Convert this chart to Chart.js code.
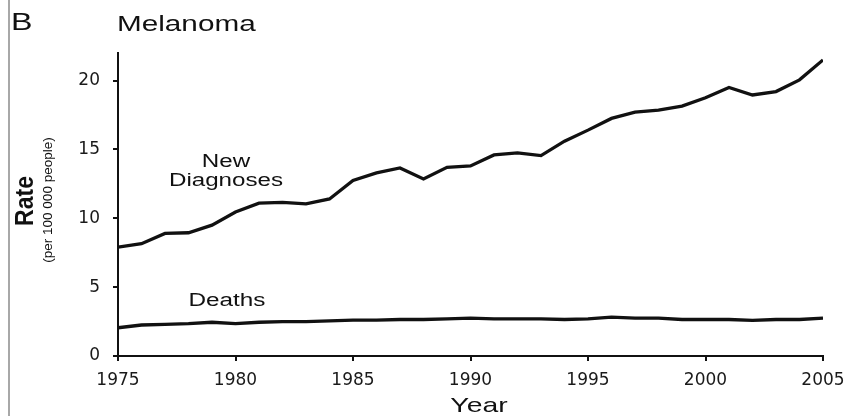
<!DOCTYPE html>
<html>
<head>
<meta charset="utf-8">
<script src="https://cdn.jsdelivr.net/npm/chart.js@4.4.1/dist/chart.umd.min.js"></script>
<style>
  html, body { margin: 0; padding: 0; background: #fff; }
  #wrap { width: 850px; height: 416px; position: relative; }
</style>
</head>
<body>
<div id="wrap"><canvas id="c" width="850" height="416"></canvas></div>
<script>
// Melanoma incidence and mortality, rate per 100 000 people
const years = [1975,1976,1977,1978,1979,1980,1981,1982,1983,1984,1985,1986,1987,1988,1989,1990,
               1991,1992,1993,1994,1995,1996,1997,1998,1999,2000,2001,2002,2003,2004,2005];
const newDiagnoses = [7.9,8.15,8.9,8.95,9.5,10.45,11.1,11.15,11.05,11.4,12.75,13.3,13.65,12.85,13.7,13.8,
                      14.6,14.75,14.55,15.6,16.4,17.25,17.7,17.85,18.15,18.75,19.5,18.95,19.2,20.05,21.5];
const deaths = [2.05,2.25,2.3,2.35,2.45,2.35,2.45,2.5,2.5,2.55,2.6,2.6,2.65,2.65,2.7,2.75,
                2.7,2.7,2.7,2.65,2.7,2.82,2.75,2.75,2.65,2.65,2.65,2.58,2.65,2.65,2.75];
const xTicks = [1975,1980,1985,1990,1995,2000,2005];
const yTicks = [0,5,10,15,20];

const toPoints = arr => arr.map((v, i) => ({ x: years[i], y: v }));

// Text drawn with a slight horizontal widening, as in the printed figure
function wideText(ctx, text, x, y, opts) {
  ctx.save();
  ctx.font = opts.font;
  ctx.fillStyle = opts.color || '#111';
  ctx.textBaseline = 'alphabetic';
  ctx.textAlign = opts.align || 'center';
  ctx.translate(x, y);
  ctx.scale(opts.sx || 1, 1);
  if (opts.rotate) ctx.rotate(-Math.PI / 2);
  ctx.fillText(text, 0, 0);
  ctx.restore();
}

const annotations = {
  id: 'annotations',
  afterDraw(chart) {
    const ctx = chart.ctx;
    // panel frame line on the left
    ctx.save();
    ctx.strokeStyle = '#a8a8a8';
    ctx.lineWidth = 2;
    ctx.beginPath();
    ctx.moveTo(9, 0);
    ctx.lineTo(9, 416);
    ctx.stroke();
    ctx.restore();

    const F = '"Liberation Sans", Arial, Helvetica, sans-serif';
    wideText(ctx, 'B', 11, 30, { font: '23px ' + F, align: 'left', sx: 1.4 });
    wideText(ctx, 'Melanoma', 117, 31, { font: '22px ' + F, align: 'left', sx: 1.35 });
    wideText(ctx, 'New', 226, 166.5, { font: '17.5px ' + F, sx: 1.38 });
    wideText(ctx, 'Diagnoses', 226, 186, { font: '17.5px ' + F, sx: 1.38 });
    wideText(ctx, 'Deaths', 227, 306, { font: '18px ' + F, sx: 1.35 });
    wideText(ctx, 'Year', 479, 411.5, { font: '21px ' + F, sx: 1.35 });
    wideText(ctx, 'Rate', 33, 201, { font: 'bold 23px ' + F, rotate: true, sx: 1.1 });
    wideText(ctx, '(per 100 000 people)', 52, 200, { font: '13.5px ' + F, rotate: true, sx: 1.0 });
  }
};

new Chart(document.getElementById('c'), {
  type: 'line',
  data: {
    datasets: [
      { label: 'New Diagnoses', data: toPoints(newDiagnoses), borderColor: '#111', borderWidth: 3.3,
        pointRadius: 0, tension: 0, fill: false },
      { label: 'Deaths', data: toPoints(deaths), borderColor: '#111', borderWidth: 3.3,
        pointRadius: 0, tension: 0, fill: false }
    ]
  },
  options: {
    responsive: false,
    animation: false,
    devicePixelRatio: 1,
    layout: { padding: { top: 53, right: 27, left: 0, bottom: 0 } },
    plugins: { legend: { display: false }, tooltip: { enabled: false } },
    scales: {
      x: {
        type: 'linear',
        min: xTicks[0],
        max: xTicks[xTicks.length - 1],
        afterBuildTicks: s => { s.ticks = xTicks.map(v => ({ value: v })); },
        afterFit: s => { s.height = 60; s.paddingLeft = 0; s.paddingRight = 0; },
        border: { display: true, color: '#111', width: 2 },
        grid: { display: true, drawOnChartArea: false, drawTicks: true, tickLength: 5, color: '#111', lineWidth: 2 },
        ticks: { color: '#1a1a1a', padding: 9, maxRotation: 0, autoSkip: false,
                 font: { family: '"DejaVu Sans", sans-serif', size: 17 },
                 callback: v => String(v) }
      },
      y: {
        min: 0,
        max: 22,
        afterBuildTicks: s => { s.ticks = yTicks.map(v => ({ value: v })); },
        afterFit: s => { s.width = 118; s.paddingTop = 0; s.paddingBottom = 0; },
        border: { display: true, color: '#111', width: 2 },
        grid: { display: true, drawOnChartArea: false, drawTicks: true, tickLength: 5, color: '#111', lineWidth: 2 },
        ticks: { color: '#1a1a1a', padding: 13, autoSkip: false,
                 font: { family: '"DejaVu Sans", sans-serif', size: 17 },
                 callback: v => String(v) }
      }
    }
  },
  plugins: [annotations]
});
</script>
</body>
</html>
